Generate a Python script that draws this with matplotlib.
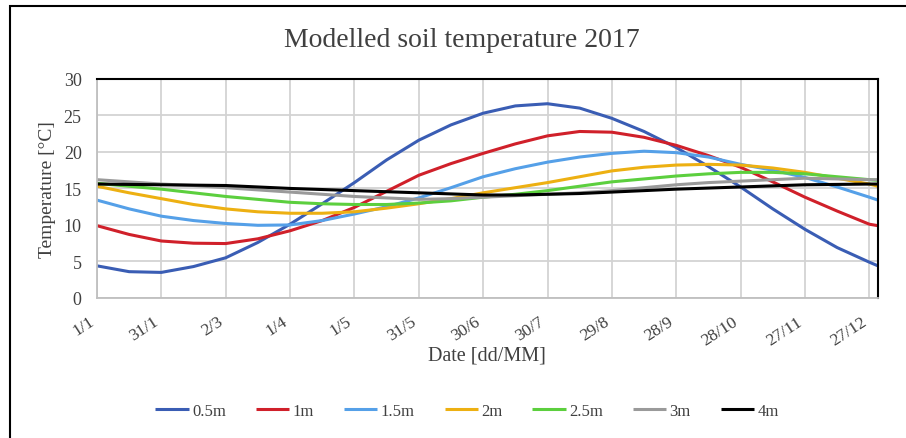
import numpy as np
import matplotlib.pyplot as plt
from matplotlib.patches import Rectangle

plt.rcParams['font.family'] = ['Liberation Serif', 'DejaVu Serif']

# day of year 2017 (0 = 1/1)
days = [0, 15, 30, 45, 60, 75, 90, 105, 120, 135, 150, 165, 180, 195, 210,
        225, 240, 255, 270, 285, 300, 315, 330, 345, 360, 364]

t_05 = [4.4, 3.6, 3.5, 4.3, 5.5, 7.6, 10.1, 12.9, 15.8, 18.9, 21.6, 23.7, 25.3,
        26.3, 26.6, 26.0, 24.6, 22.8, 20.6, 18.0, 15.2, 12.2, 9.4, 6.9, 4.9, 4.4]
t_10 = [9.9, 8.7, 7.8, 7.5, 7.45, 8.1, 9.2, 10.6, 12.4, 14.6, 16.8, 18.4, 19.8,
        21.1, 22.2, 22.8, 22.7, 22.0, 20.9, 19.5, 17.9, 15.9, 13.8, 11.9, 10.1, 9.9]
t_15 = [13.4, 12.2, 11.2, 10.6, 10.2, 9.95, 10.0, 10.6, 11.5, 12.5, 13.7, 15.1, 16.6,
        17.7, 18.6, 19.3, 19.8, 20.1, 19.9, 19.3, 18.3, 17.5, 16.5, 15.2, 13.8, 13.4]
t_20 = [15.3, 14.4, 13.6, 12.8, 12.2, 11.8, 11.6, 11.6, 11.8, 12.3, 12.9, 13.6, 14.4,
        15.1, 15.8, 16.6, 17.4, 17.9, 18.2, 18.3, 18.2, 17.8, 17.2, 16.4, 15.6, 15.3]
t_25 = [15.7, 15.3, 14.9, 14.4, 13.9, 13.5, 13.1, 12.9, 12.8, 12.8, 13.0, 13.3, 13.8,
        14.2, 14.7, 15.3, 15.9, 16.3, 16.7, 17.0, 17.2, 17.2, 17.0, 16.6, 16.2, 16.1]
t_30 = [16.2, 15.9, 15.6, 15.4, 15.1, 14.8, 14.5, 14.2, 13.9, 13.7, 13.5, 13.6, 13.8,
        14.0, 14.2, 14.4, 14.7, 15.1, 15.5, 15.8, 16.0, 16.2, 16.4, 16.3, 16.2, 16.2]
t_40 = [15.6, 15.55, 15.5, 15.45, 15.4, 15.2, 15.0, 14.85, 14.7, 14.55, 14.4, 14.25, 14.1,
        14.1, 14.2, 14.3, 14.5, 14.7, 14.9, 15.05, 15.2, 15.35, 15.5, 15.55, 15.6, 15.6]

labels = ['0.5m', '1m', '1.5m', '2m', '2.5m', '3m', '4m']
colors = ['#3A5DB4', '#D0202A', '#55A0E8', '#EDB012', '#5CCF3E', '#9A9A9A', '#000000']

tick_days = [0, 30, 60, 90, 120, 150, 180, 210, 240, 270, 300, 330, 360]
tick_labels = ['1/1', '31/1', '2/3', '1/4', '1/5', '31/5', '30/6', '30/7',
               '29/8', '28/9', '28/10', '27/11', '27/12']

fig = plt.figure(figsize=(9.06, 4.39), dpi=100)
ax = fig.add_axes([0.107, 0.319, 0.862, 0.499])

for y, lab, c in zip([t_05, t_10, t_15, t_20, t_25, t_30, t_40], labels, colors):
    ax.plot(days, y, color=c, lw=2.2, label=lab, solid_capstyle='butt')

ax.set_xlim(0, 364)
ax.set_ylim(0, 30)
ax.set_yticks(range(0, 31, 5))
ax.set_xticks(tick_days)
ax.set_xticklabels(tick_labels, rotation=33, ha='right', va='top')
ax.tick_params(axis='both', length=0, labelsize=13, colors='#404040')
ax.tick_params(axis='x', labelsize=12.5, pad=11)
ax.tick_params(axis='y', pad=11)
ax.grid(True, color='#D3D3D3', lw=1.3)
ax.set_axisbelow(True)
for s in ['left', 'bottom']:
    ax.spines[s].set_color('#BFBFBF')
    ax.spines[s].set_linewidth(1.3)
for s in ['top', 'right']:
    ax.spines[s].set_color('#000000')
    ax.spines[s].set_linewidth(1.5)

ax.set_ylabel('Temperature [°C]', fontsize=14, color='#404040')
ax.yaxis.set_label_coords(-0.0525, 0.5)
ax.set_xlabel('Date [dd/MM]', fontsize=14.5, color='#404040')
ax.xaxis.set_label_coords(0.5, -0.215)
fig.text(0.51, 0.907, 'Modelled soil temperature 2017', fontsize=20,
         color='#404040', ha='center', va='center')

ax.legend(loc='center', bbox_to_anchor=(0.474, -0.516), ncol=7, frameon=False,
          fontsize=12, handlelength=2.0, handletextpad=0.2, columnspacing=1.8,
          labelcolor='#404040')

# outer frame
fig.patches.append(Rectangle((10 / 906, -0.1), 1.2, 1 - 7 / 439 + 0.1,
                             transform=fig.transFigure, fill=False,
                             edgecolor='black', lw=1.5))

fig.savefig('out.png', dpi=100)
